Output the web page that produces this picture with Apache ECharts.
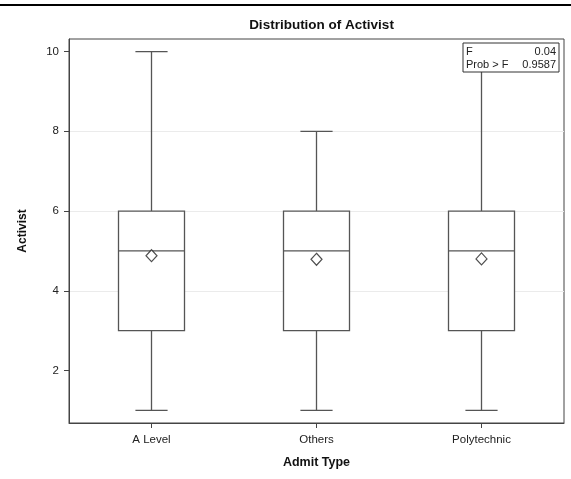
<!DOCTYPE html>
<html>
<head>
<meta charset="utf-8">
<script src="https://cdn.jsdelivr.net/npm/echarts@6/dist/echarts.min.js"></script>
<style>
  html, body { margin: 0; padding: 0; background: #fff; }
  #chart { width: 571px; height: 479px; }
</style>
</head>
<body>
<div id="chart"></div>
<script>
  // data
  var categories = ['A Level', 'Others', 'Polytechnic']
  var whiskerLow = [1, 1, 1]
  var q1 = [3, 3, 3]
  var median = [5, 5, 5]
  var q3 = [6, 6, 6]
  var whiskerHigh = [10, 8, 10]
  var means = [4.88, 4.79, 4.8]
  var yTicks = [2, 4, 6, 8, 10]
  var statLabels = ['F', 'Prob > F']
  var statValues = ['0.04', '0.9587']

  var font = '"Liberation Sans", Arial, sans-serif'
  var lineColor = '#555'

  var boxData = categories.map(function (c, i) {
    return [i, whiskerLow[i], q1[i], median[i], q3[i], whiskerHigh[i]]
  })
  var meanData = categories.map(function (c, i) {
    return [i, means[i]]
  })

  function renderBox(params, api) {
    var x = api.value(0)
    var pMin = api.coord([x, api.value(1)])
    var pQ1 = api.coord([x, api.value(2)])
    var pMed = api.coord([x, api.value(3)])
    var pQ3 = api.coord([x, api.value(4)])
    var pMax = api.coord([x, api.value(5)])
    var band = api.size([1, 0])[0]
    var bw = band * 0.4
    var cw = band * 0.195
    var cx = pMed[0]
    var st = { stroke: lineColor, lineWidth: 1.3, fill: null }
    return {
      type: 'group',
      children: [
        { type: 'line', shape: { x1: cx, y1: pQ3[1], x2: cx, y2: pMax[1] }, style: st },
        { type: 'line', shape: { x1: cx, y1: pMin[1], x2: cx, y2: pQ1[1] }, style: st },
        { type: 'line', shape: { x1: cx - cw / 2, y1: pMax[1], x2: cx + cw / 2, y2: pMax[1] }, style: st },
        { type: 'line', shape: { x1: cx - cw / 2, y1: pMin[1], x2: cx + cw / 2, y2: pMin[1] }, style: st },
        { type: 'rect', shape: { x: cx - bw / 2, y: pQ3[1], width: bw, height: pQ1[1] - pQ3[1] },
          style: { stroke: lineColor, lineWidth: 1.3, fill: '#fff' } },
        { type: 'line', shape: { x1: cx - bw / 2, y1: pMed[1], x2: cx + bw / 2, y2: pMed[1] }, style: st }
      ]
    }
  }

  var chart = echarts.init(document.getElementById('chart'), null, { renderer: 'canvas' })
  chart.setOption({
    backgroundColor: '#fff',
    animation: false,
    title: {
      text: 'Distribution of Activist',
      left: 316.5,
      textAlign: 'center',
      top: 13,
      textStyle: { fontFamily: font, fontSize: 13.5, fontWeight: 'bold', color: '#111' }
    },
    grid: {
      left: 69, right: 7, top: 39, bottom: 56,
      show: true, borderColor: '#444', borderWidth: 1, backgroundColor: 'transparent'
    },
    xAxis: {
      type: 'category',
      data: categories,
      boundaryGap: true,
      name: 'Admit Type',
      nameLocation: 'middle',
      nameGap: 33,
      nameTextStyle: { fontFamily: font, fontSize: 12.5, fontWeight: 'bold', color: '#111' },
      axisLine: { show: true, lineStyle: { color: '#444' } },
      axisTick: { show: true, alignWithLabel: true, length: 5, lineStyle: { color: '#444' } },
      axisLabel: { fontFamily: font, fontSize: 11.5, color: '#222', margin: 11 },
      splitLine: { show: false }
    },
    yAxis: {
      type: 'value',
      min: 0.685,
      max: 10.315,
      name: 'Activist',
      nameLocation: 'middle',
      nameGap: 40,
      nameRotate: 90,
      nameTextStyle: { fontFamily: font, fontSize: 12, fontWeight: 'bold', color: '#111' },
      axisLine: { show: true, lineStyle: { color: '#444' } },
      axisTick: { show: true, length: 5, customValues: yTicks, lineStyle: { color: '#444' } },
      axisLabel: { fontFamily: font, fontSize: 11.5, color: '#222', margin: 10, customValues: yTicks },
      splitLine: { show: true, showMinLine: false, showMaxLine: false, lineStyle: { color: '#ebebeb', width: 1 } }
    },
    series: [
      {
        type: 'custom',
        renderItem: renderBox,
        data: boxData,
        encode: { x: 0, y: [1, 2, 3, 4, 5] },
        z: 2
      },
      {
        type: 'scatter',
        data: meanData,
        symbol: 'diamond',
        symbolSize: [11, 12],
        itemStyle: { color: '#fff', borderColor: '#222', borderWidth: 1.2 },
        z: 3
      }
    ],
    graphic: [
      { type: 'line', shape: { x1: 0, y1: 5, x2: 571, y2: 5 }, style: { stroke: '#000', lineWidth: 2 }, z: 100 },
      { type: 'rect', shape: { x: 463, y: 43, width: 96, height: 29 },
        style: { fill: '#fff', stroke: '#333', lineWidth: 1 }, z: 100 },
      { type: 'text', left: 466, top: 46, z: 101,
        style: { text: statLabels[0], font: '11px ' + font, fill: '#222' } },
      { type: 'text', right: 15, top: 46, z: 101,
        style: { text: statValues[0], font: '11px ' + font, fill: '#222' } },
      { type: 'text', left: 466, top: 59.5, z: 101,
        style: { text: statLabels[1], font: '11px ' + font, fill: '#222' } },
      { type: 'text', right: 15, top: 59.5, z: 101,
        style: { text: statValues[1], font: '11px ' + font, fill: '#222' } }
    ]
  })
</script>
</body>
</html>
